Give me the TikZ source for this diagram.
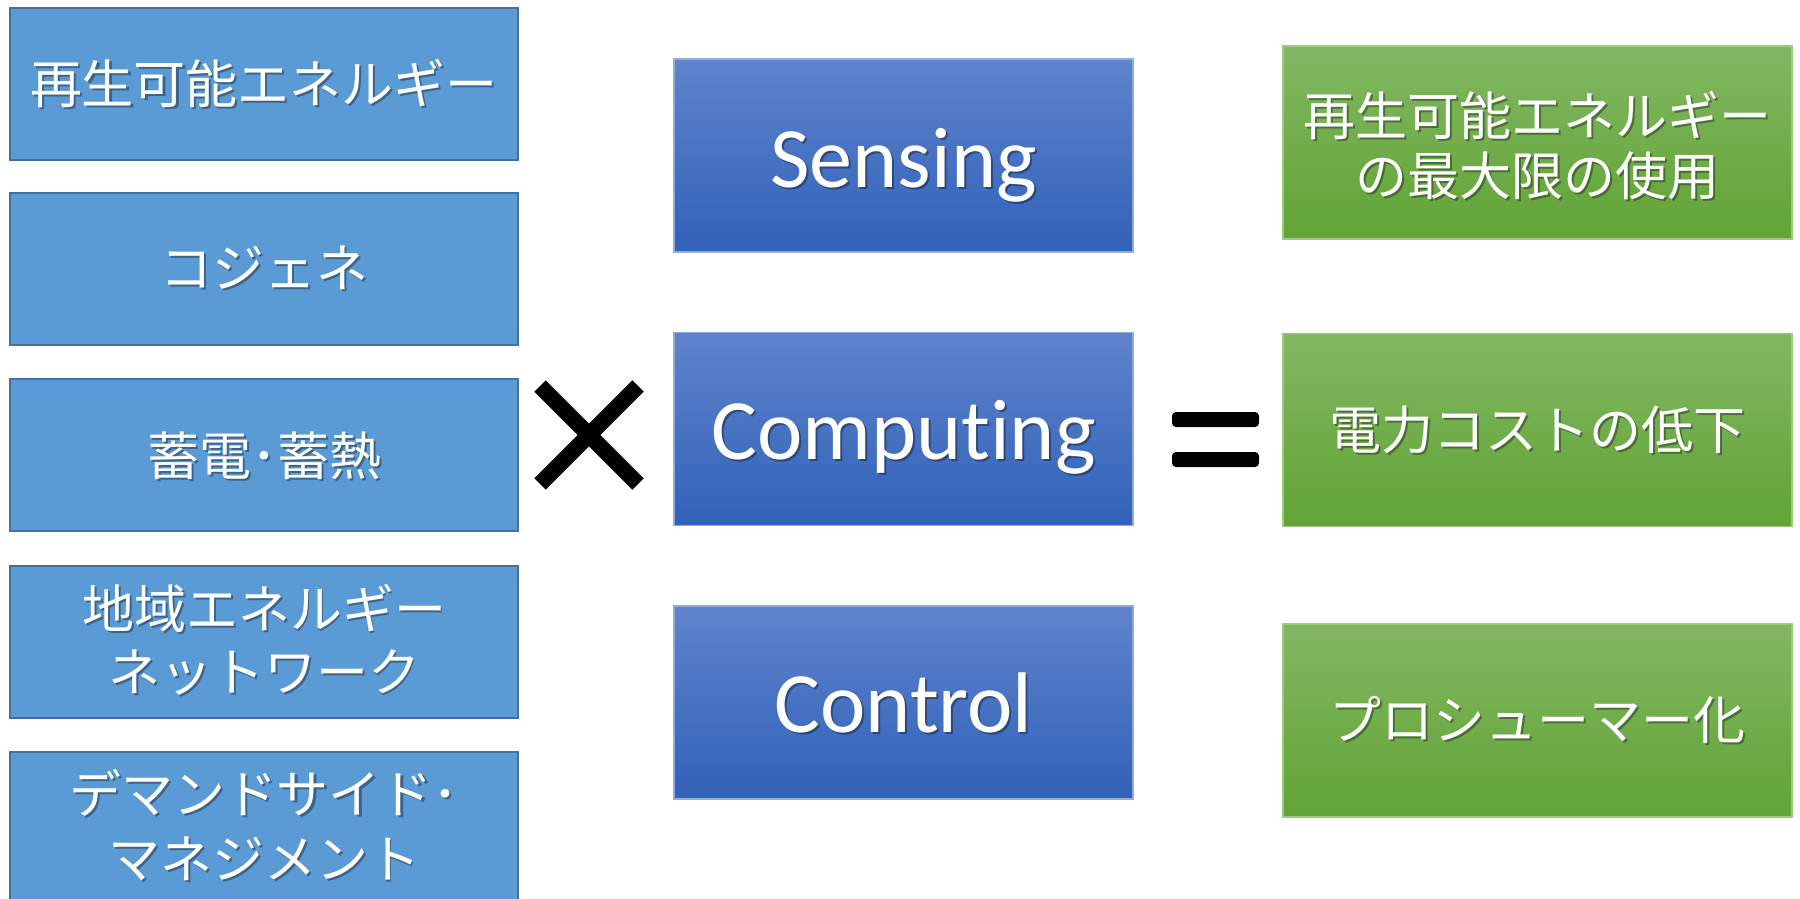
\documentclass[tikz,border=0pt]{standalone}
\usepackage{fontspec}
\setmainfont{Carlito}[Ligatures=NoCommon]
\newfontfamily\jpfont{Noto Sans CJK JP}

\definecolor{leftfill}{HTML}{5B9BD5}
\definecolor{leftdraw}{HTML}{41719C}
\definecolor{midtop}{HTML}{6083CC}
\definecolor{midbot}{HTML}{3062B9}
\definecolor{middraw}{HTML}{8FAADC}
\definecolor{goaltop}{HTML}{81B762}
\definecolor{goalbot}{HTML}{62A436}
\definecolor{goaldraw}{HTML}{9CCB7E}

% white label with a soft drop shadow underneath
\newcommand\shadowtext[4]{%
  \node[#2, text=black, text opacity=0.35, xshift=2pt, yshift=-2pt] (#1-shadow) at (#3) {#4};
  \node[#2, text=white] (#1) at (#3) {#4};
}

\begin{document}
\begin{tikzpicture}[x=1pt,y=-1pt,
  leftbox/.style={draw=leftdraw, line width=2pt, fill=leftfill,
    minimum width=508pt, minimum height=152pt, inner sep=0pt},
  midbox/.style={draw=middraw, line width=1.2pt, top color=midtop, bottom color=midbot,
    minimum width=459pt, minimum height=193pt, inner sep=0pt},
  goalbox/.style={draw=goaldraw, line width=1.2pt, top color=goaltop, bottom color=goalbot,
    minimum width=509pt, minimum height=193pt, inner sep=0pt},
  jptext/.style={font=\jpfont\fontsize{52}{60}\selectfont, anchor=base, inner sep=0pt},
  entext/.style={font=\fontsize{86}{100}\selectfont, anchor=base, inner sep=0pt},
]
\fill[white] (0,0) rectangle (1800,899);
\useasboundingbox (0,0) rectangle (1800,899);

% technologies (left column)
\node[leftbox] (renew)  at (264,84)    {};
\node[leftbox] (cogen)  at (264,268.5) {};
\node[leftbox] (store)  at (264,455)   {};
\node[leftbox] (local)  at (264,641.5) {};
\node[leftbox] (demand) at (264,827.5) {};

\shadowtext{renew-t}{jptext}{264,103}{再生可能エネルギー}
\shadowtext{cogen-t}{jptext}{264,287.5}{コジェネ}
\shadowtext{store-t}{jptext}{264,475.5}{蓄電･蓄熱}
\shadowtext{local-t1}{jptext}{264,628.5}{地域エネルギー}
\shadowtext{local-t2}{jptext}{264,691.5}{ネットワーク}
\shadowtext{demand-t1}{jptext}{264,813.5}{デマンドサイド･}
\shadowtext{demand-t2}{jptext}{264,878.5}{マネジメント}

% multiplication sign
\draw[line width=16pt] (540,386) -- (638,484);
\draw[line width=16pt] (638,386) -- (540,484);

% ICT layers (middle column)
\node[midbox] (sense)   at (903.5,155.5) {};
\node[midbox] (compute) at (903.5,429)   {};
\node[midbox] (control) at (903.5,702.5) {};

\shadowtext{sense-t}{entext}{903.5,187}{Sensing}
\shadowtext{compute-t}{entext}{903.5,459}{Computing}
\shadowtext{control-t}{entext}{903.5,732}{Control}

% equals sign
\fill[rounded corners=4pt] (1172,412) rectangle (1259,427);
\fill[rounded corners=4pt] (1172,452) rectangle (1259,467);

% outcomes (right column)
\node[goalbox] (maxuse)   at (1537.5,142.5) {};
\node[goalbox] (lowcost)  at (1537.5,430)   {};
\node[goalbox] (prosumer) at (1537.5,720.5) {};

\shadowtext{maxuse-t1}{jptext}{1537.5,135.5}{再生可能エネルギー}
\shadowtext{maxuse-t2}{jptext}{1537.5,195.5}{の最大限の使用}
\shadowtext{lowcost-t}{jptext}{1537.5,449.5}{電力コストの低下}
\shadowtext{prosumer-t}{jptext}{1537.5,739.5}{プロシューマー化}
\end{tikzpicture}
\end{document}
